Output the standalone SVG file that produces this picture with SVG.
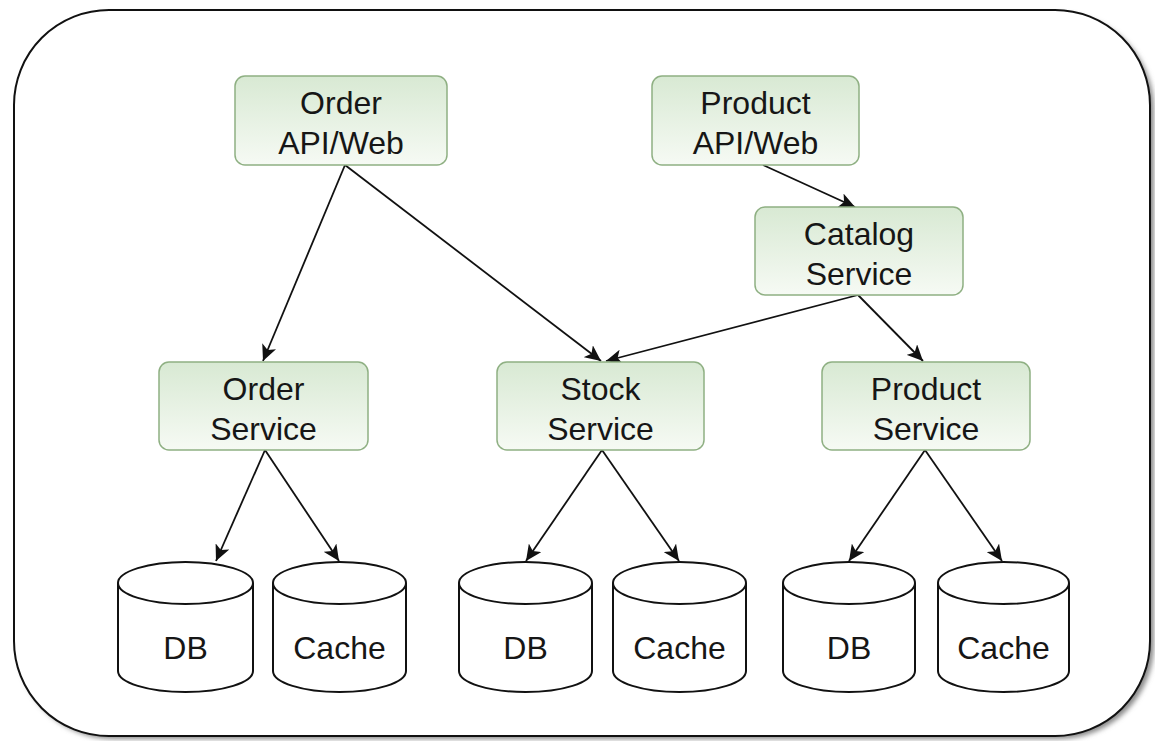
<svg xmlns="http://www.w3.org/2000/svg" width="1155" height="741" viewBox="0 0 1155 741">
<style>
.node rect{stroke:#8fb083;stroke-width:1.5;fill:url(#g)}
.lbl{font-family:"Liberation Sans",Arial,sans-serif;font-size:32px;fill:#161616;text-anchor:middle}
.cyl path{fill:#fff;stroke:#111;stroke-width:2}
.edges line{stroke:#111;stroke-width:1.8;marker-end:url(#arr)}
</style>
<defs>
<linearGradient id="g" x1="0" y1="0" x2="0" y2="1">
<stop offset="0" stop-color="#d8e9d3"/>
<stop offset="1" stop-color="#f6faf4"/>
</linearGradient>
<marker id="arr" markerUnits="userSpaceOnUse" markerWidth="17" markerHeight="15" refX="16" refY="7.5" orient="auto">
<path d="M0,0 L16,7.5 L0,15 L4,7.5 z" fill="#111"/>
</marker>
<filter id="sh" x="-5%" y="-5%" width="110%" height="110%">
<feGaussianBlur stdDeviation="2.5"/>
</filter>
</defs>
<rect width="1155" height="741" fill="#fff"/>
<g id="container">
<rect x="18" y="14" width="1136" height="725" rx="95" fill="#8a8a8a" filter="url(#sh)"/>
<rect x="14" y="10" width="1136" height="726" rx="95" fill="#fff" stroke="#111" stroke-width="2"/>
</g>
<g class="edges" id="connectors">
<line x1="345" y1="165" x2="263" y2="361"/>
<line x1="345" y1="165" x2="601" y2="361"/>
<line x1="763" y1="165" x2="855" y2="207"/>
<line x1="858" y1="295" x2="606" y2="361"/>
<line x1="858" y1="295" x2="923" y2="361"/>
<line x1="265" y1="450" x2="216" y2="561"/>
<line x1="265" y1="450" x2="339" y2="561"/>
<line x1="602" y1="450" x2="526" y2="561"/>
<line x1="602" y1="450" x2="679" y2="561"/>
<line x1="925" y1="450" x2="849" y2="561"/>
<line x1="925" y1="450" x2="1002" y2="561"/>
</g>
<g id="order-api" class="node"><rect x="235" y="76" width="212" height="89" rx="10"/><text class="lbl" x="341" y="114">Order</text><text class="lbl" x="341" y="154">API/Web</text></g>
<g id="product-api" class="node"><rect x="652" y="76" width="207" height="89" rx="10"/><text class="lbl" x="755.5" y="114">Product</text><text class="lbl" x="755.5" y="154">API/Web</text></g>
<g id="catalog-service" class="node"><rect x="755" y="207" width="208" height="88" rx="10"/><text class="lbl" x="859" y="245">Catalog</text><text class="lbl" x="859" y="285">Service</text></g>
<g id="order-service" class="node"><rect x="159" y="362" width="209" height="88" rx="10"/><text class="lbl" x="263.5" y="400">Order</text><text class="lbl" x="263.5" y="440">Service</text></g>
<g id="stock-service" class="node"><rect x="497" y="362" width="207" height="88" rx="10"/><text class="lbl" x="600.5" y="400">Stock</text><text class="lbl" x="600.5" y="440">Service</text></g>
<g id="product-service" class="node"><rect x="822" y="362" width="208" height="88" rx="10"/><text class="lbl" x="926" y="400">Product</text><text class="lbl" x="926" y="440">Service</text></g>
<g id="order-db" class="cyl"><path d="M118,583 A67.5,21 0 0 1 253,583 L253,671 A67.5,21 0 0 1 118,671 Z"/><path d="M118,583 A67.5,21 0 0 0 253,583" fill="none"/><text class="lbl" x="185.5" y="659">DB</text></g>
<g id="order-cache" class="cyl"><path d="M273,583 A66.5,21 0 0 1 406,583 L406,671 A66.5,21 0 0 1 273,671 Z"/><path d="M273,583 A66.5,21 0 0 0 406,583" fill="none"/><text class="lbl" x="339.5" y="659">Cache</text></g>
<g id="stock-db" class="cyl"><path d="M459,583 A66.5,21 0 0 1 592,583 L592,671 A66.5,21 0 0 1 459,671 Z"/><path d="M459,583 A66.5,21 0 0 0 592,583" fill="none"/><text class="lbl" x="525.5" y="659">DB</text></g>
<g id="stock-cache" class="cyl"><path d="M613,583 A66.5,21 0 0 1 746,583 L746,671 A66.5,21 0 0 1 613,671 Z"/><path d="M613,583 A66.5,21 0 0 0 746,583" fill="none"/><text class="lbl" x="679.5" y="659">Cache</text></g>
<g id="product-db" class="cyl"><path d="M783,583 A66,21 0 0 1 915,583 L915,671 A66,21 0 0 1 783,671 Z"/><path d="M783,583 A66,21 0 0 0 915,583" fill="none"/><text class="lbl" x="849" y="659">DB</text></g>
<g id="product-cache" class="cyl"><path d="M938,583 A65.5,21 0 0 1 1069,583 L1069,671 A65.5,21 0 0 1 938,671 Z"/><path d="M938,583 A65.5,21 0 0 0 1069,583" fill="none"/><text class="lbl" x="1003.5" y="659">Cache</text></g>
</svg>
